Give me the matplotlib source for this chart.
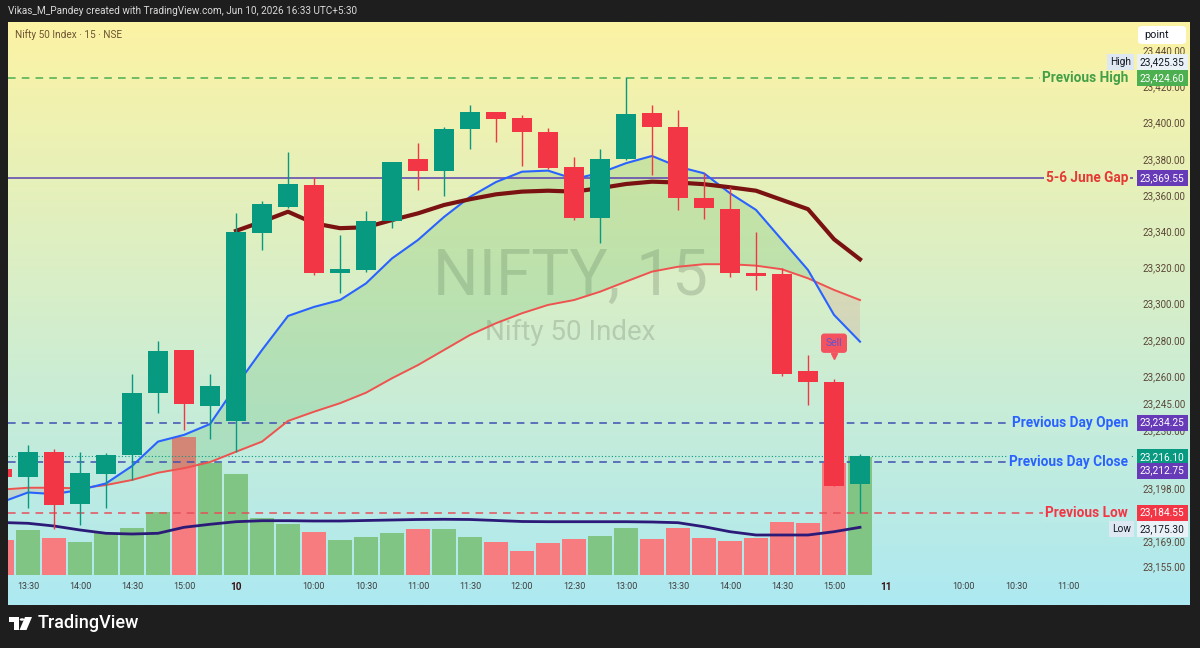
import numpy as np
import matplotlib.pyplot as plt
from matplotlib import transforms
from matplotlib.patches import FancyBboxPatch, Polygon, Circle

plt.rcParams['font.family'] = ['Roboto', 'DejaVu Sans']

W, H = 1200, 648

# 15 min candles, 9 Jun 13:15 -> 10 Jun 15:15
opens = [23208.7, 23204.4, 23218.2, 23189.3, 23205.7, 23216.4, 23250.5, 23274.4, 23243.5,
         23235.4, 23338.9, 23353.4, 23365.6, 23317.1, 23318.6, 23345.7, 23379.8, 23373.5,
         23396.4, 23405.7, 23402.8, 23394.7, 23375.7, 23347.5, 23379.8, 23405.5, 23397.5,
         23358.2, 23352.3, 23316.8, 23316.4, 23262.8, 23256.6, 23200.2]
highs = [23211.0, 23221.9, 23219.6, 23218.2, 23217.5, 23261.2, 23279.6, 23274.6, 23261.0,
         23350.3, 23356.9, 23384.0, 23370.2, 23338.0, 23351.4, 23378.5, 23388.6, 23397.8,
         23409.8, 23406.0, 23404.3, 23396.9, 23381.2, 23385.3, 23425.35, 23409.8, 23407.0,
         23372.0, 23364.6, 23339.4, 23319.6, 23271.7, 23258.2, 23217.0]
lows = [23202.0, 23187.1, 23175.3, 23177.7, 23187.1, 23202.6, 23239.4, 23230.2, 23225.1,
        23218.2, 23329.7, 23352.9, 23316.0, 23305.7, 23317.7, 23341.7, 23362.8, 23359.5,
        23385.5, 23389.5, 23376.1, 23374.5, 23346.2, 23333.4, 23379.5, 23371.1, 23351.8,
        23346.8, 23314.9, 23307.6, 23260.0, 23244.0, 23199.0, 23184.6]
closes = [23204.3, 23218.2, 23188.8, 23206.3, 23216.4, 23250.5, 23274.0, 23244.4, 23254.5,
          23339.8, 23355.1, 23366.1, 23316.8, 23319.0, 23345.7, 23378.3, 23373.5, 23396.5,
          23405.7, 23402.2, 23394.9, 23374.8, 23347.5, 23379.8, 23404.6, 23397.8, 23358.6,
          23352.7, 23316.8, 23315.3, 23261.2, 23256.6, 23199.3, 23216.1]
volume = [35, 45, 36.7, 33.3, 41.7, 47.3, 63.3, 138.3, 112.3, 101, 56.7, 50.7, 43.3, 35,
          38.3, 42.3, 45.7, 45.7, 37.7, 33.3, 24.3, 31.7, 35.7, 39, 47.3, 35.7, 47.3, 37.3,
          34, 37.3, 52.7, 51.7, 111.7, 118.3]
volume_ma = [52.5, 51.7, 49, 45, 41.7, 41, 41.7, 47.7, 50.7, 53.3, 54.3, 54.3, 54, 54, 54.5,
             55, 55.5, 55.7, 55.5, 54.5, 53.5, 53.3, 53.3, 53.3, 53.3, 53, 52.3, 48.3, 43.3,
             40, 40, 40, 43.3, 47.7]
ema_fast = [23190.4, 23195.7, 23194.8, 23197.1, 23200.7, 23210.3, 23223.8, 23227.5, 23233.5,
            23254.5, 23274.4, 23293.2, 23298.2, 23302.0, 23311.2, 23325.0, 23335.2, 23347.9,
            23359.0, 23367.2, 23372.9, 23373.5, 23368.9, 23372.2, 23377.6, 23381.6, 23375.7,
            23372.0, 23361.0, 23351.8, 23335.2, 23318.6, 23293.8, 23279.0]
ema_slow = [23197.3, 23198.3, 23198.3, 23198.0, 23199.8, 23202.6, 23206.6, 23209.1, 23212.5,
            23218.2, 23223.8, 23235.2, 23240.3, 23245.0, 23250.8, 23258.8, 23266.1, 23274.4,
            23282.7, 23289.2, 23294.7, 23299.3, 23302.0, 23306.6, 23312.2, 23317.7, 23320.4,
            23321.8, 23321.8, 23321.0, 23319.0, 23314.0, 23307.6, 23302.0]
# maroon average, only from the 10 Jun open (bar 9)
ma_day_start = 9
ma_day = [23340.2, 23345.3, 23350.8, 23344.4, 23341.7, 23342.2, 23346.2, 23349.9, 23354.5,
          23357.7, 23360.4, 23361.9, 23362.4, 23361.9, 23363.8, 23366.1, 23367.4, 23366.9,
          23366.0, 23364.3, 23362.4, 23357.3, 23352.2, 23335.6, 23324.5]
sell_bar = 32

prev_high = 23424.60
gap_level = 23369.55
prev_day_open = 23234.25
prev_day_close = 23212.75
prev_low = 23184.55
last_price = 23216.10
day_high = 23425.35
day_low = 23175.30

price_ticks = [23440, 23420, 23400, 23380, 23360, 23340, 23320, 23300, 23280, 23260,
               23245, 23230, 23198, 23169, 23155]
time_pos = [1, 3, 5, 7, 9, 12, 14, 16, 18, 20, 22, 24, 26, 28, 30, 32, 34, 37, 39, 41]
time_labels = ['13:30', '14:00', '14:30', '15:00', '10', '10:00', '10:30', '11:00', '11:30',
               '12:00', '12:30', '13:00', '13:30', '14:00', '14:30', '15:00', '11', '10:00',
               '10:30', '11:00']

XLIM = (0.23, 43.5)
YLIM = (23150.1, 23455.6)
UP, DOWN = '#089981', '#f23645'
top_col = np.array([252, 243, 164]) / 255
bot_col = np.array([173, 233, 242]) / 255


def rect(x0, y0, x1, y1):
    # pixel box (origin top left) -> figure fraction
    return [x0 / W, 1 - y1 / H, (x1 - x0) / W, (y1 - y0) / H]


def bg_at(p):
    y_px = 22 + (YLIM[1] - p) / (YLIM[1] - YLIM[0]) * 553
    f = (y_px - 22) / 583
    return tuple(top_col + f * (bot_col - top_col))


fig = plt.figure(figsize=(W / 100, H / 100), dpi=100, facecolor='#1e1e1e')

bg = fig.add_axes(rect(8, 22, 1190, 605))
grad = top_col + np.linspace(0, 1, 256)[:, None, None] * (bot_col - top_col)
bg.imshow(grad, aspect='auto', extent=(0, 1, 0, 1), origin='upper')
bg.axis('off')

idx = np.arange(len(opens))
o, h, l, c = map(np.array, (opens, highs, lows, closes))
up = c >= o
colors = np.where(up, UP, DOWN)

# volume pane
axv = fig.add_axes(rect(8, 22, 1133, 575))
axv.set_facecolor('none')
axv.axis('off')
axv.bar(idx, volume, width=0.95, color=np.where(up, '#80c584', '#f77c80'), lw=0)
axv.plot(idx, volume_ma, color='#2b1a78', lw=2)
axv.set_xlim(*XLIM)
axv.set_ylim(0, 553)

ax = fig.add_axes(rect(8, 22, 1133, 575))
ax.set_facecolor('none')
for s in ax.spines.values():
    s.set_visible(False)

ax.text(0.5, 0.539, 'NIFTY, 15', transform=ax.transAxes, ha='center', va='center',
        fontsize=46, color='#6f7f6a', alpha=0.3, zorder=0)
ax.text(0.5, 0.439, 'Nifty 50 Index', transform=ax.transAxes, ha='center', va='center',
        fontsize=20, color='#6f7f6a', alpha=0.3, zorder=0)

fast = np.array(ema_fast)
slow = np.array(ema_slow)
ax.fill_between(idx, fast, slow, where=fast >= slow, interpolate=True,
                color='#4caf50', alpha=0.2, lw=0, zorder=1)
ax.fill_between(idx, fast, slow, where=fast < slow, interpolate=True,
                color='#d84a4a', alpha=0.13, lw=0, zorder=1)
ax.plot(idx, slow, color='#ef5350', lw=1.4, zorder=2)
ax.plot(idx, fast, color='#2962ff', lw=1.5, zorder=2)
ax.plot(idx[ma_day_start:], ma_day, color='#7a1212', lw=3, zorder=2)

# levels
dash = (0, (5, 4))
levels = [
    (prev_high, 'Previous High', '#43a047', '#4caf50', dash),
    (gap_level, '5-6 June Gap', '#e53935', '#5b3fb2', '-'),
    (prev_day_open, 'Previous Day Open', '#2962ff', '#3f4fb0', dash),
    (prev_day_close, 'Previous Day Close', '#2962ff', '#3f4fb0', dash),
    (prev_low, 'Previous Low', '#f23645', '#e5505a', dash),
]
blend = transforms.blended_transform_factory(ax.transAxes, ax.transData)
for price, name, tcol, lcol, ls in levels:
    ax.axhline(price, color=lcol, ls=ls, lw=1.1, zorder=1.5)
    ax.text(0.9956, price, name, transform=blend, ha='right', va='center',
            fontsize=9.8, fontweight='bold', color=tcol, zorder=6,
            bbox=dict(boxstyle='square,pad=0.15', fc=bg_at(price), ec='none'))
ax.axhline(last_price, color=UP, ls=(0, (1, 2)), lw=0.8, zorder=1.5)

# candles
ax.vlines(idx, l, h, color=colors, lw=1, zorder=3)
ax.bar(idx, np.abs(c - o), bottom=np.minimum(o, c), width=0.77, color=colors, lw=0, zorder=4)

# sell signal
sell_col = '#f4525e'
ax.annotate('Sell', xy=(sell_bar, highs[sell_bar]), xytext=(0, 26), textcoords='offset points',
            ha='center', va='center', fontsize=7.5, color='#5f55d0', zorder=7,
            bbox=dict(boxstyle='round,pad=0.45,rounding_size=0.3', fc=sell_col, ec='none'))
ax.plot([sell_bar], [highs[sell_bar]], marker='v', ms=5, color=sell_col, zorder=7,
        transform=transforms.offset_copy(ax.transData, fig=fig, y=16.5, units='points'))

ax.set_xlim(*XLIM)
ax.set_ylim(*YLIM)

ax.yaxis.tick_right()
ax.set_yticks(price_ticks)
ax.set_yticklabels([f'{v:,.2f}' for v in price_ticks])
ax.tick_params(axis='y', length=0, pad=6.5, labelsize=7, labelcolor='#5a4636')
ax.set_xticks(time_pos)
ax.set_xticklabels(time_labels)
ax.tick_params(axis='x', length=0, pad=5, labelsize=6.5, labelcolor='#3d3d3d')
for lab in ax.get_xticklabels():
    if len(lab.get_text()) == 2:
        lab.set_fontweight('bold')
        lab.set_color('#3a1010')
        lab.set_fontsize(7.2)

# price tags on the scale
tags = [(prev_high, '#4caf50', 0), (gap_level, '#673ab7', 0), (prev_day_open, '#673ab7', 0),
        (last_price, UP, -1), (prev_day_close, '#673ab7', -6.5), (prev_low, '#f23645', 0)]
for price, col, dy in tags:
    ax.annotate(f'{price:,.2f}', xy=(1.0062, price), xycoords=blend, xytext=(0, dy),
                textcoords='offset points', ha='left', va='center', fontsize=7.3,
                color='white', zorder=8, annotation_clip=False,
                bbox=dict(boxstyle='square,pad=0.3', fc=col, ec='none'))

for price, word, dy in [(day_high, 'High', 10.7), (day_low, 'Low', 0)]:
    ax.annotate(word, xy=(0.9985, price), xycoords=blend, xytext=(0, dy),
                textcoords='offset points', ha='right', va='center', fontsize=7.3,
                color='#131722', zorder=8, annotation_clip=False,
                bbox=dict(boxstyle='square,pad=0.3', fc='#dde8f2', ec='none'))
    ax.annotate(f'{price:,.2f}', xy=(1.0062, price), xycoords=blend, xytext=(0, dy),
                textcoords='offset points', ha='left', va='center', fontsize=7.3,
                color='#131722', zorder=8, annotation_clip=False,
                bbox=dict(boxstyle='square,pad=0.3', fc='#eaf2f8', ec='none'))

# header / footer
fig.text(8 / W, 1 - 11 / H, 'Vikas_M_Pandey created with TradingView.com, Jun 10, 2026 16:33 UTC+5:30',
         color='#d9d9d9', fontsize=7.2, va='center', ha='left')
fig.text(15 / W, 1 - 35 / H, 'Nifty 50 Index · 15 · NSE', color='#6d5533', fontsize=7.2,
         va='center', ha='left')
fig.patches.append(FancyBboxPatch((1138 / W, 1 - 44 / H), 48 / W, 18 / H,
                                  boxstyle='round,pad=0,rounding_size=0.004',
                                  transform=fig.transFigure, fc='white', ec='none'))
fig.text(1157 / W, 1 - 35 / H, 'point', color='#131722', fontsize=7.8, ha='center', va='center')


def px(x, y):
    return (x / W, 1 - y / H)


for shape in [Polygon([px(9, 617), px(19, 617), px(19, 630), px(14, 630), px(14, 621.5), px(9, 621.5)]),
              Polygon([px(25, 617), px(32, 617), px(26.5, 630), px(19.5, 630)]),
              Circle(px(22, 619.5), 2.3 / W)]:
    shape.set_transform(fig.transFigure)
    shape.set_facecolor('white')
    shape.set_edgecolor('none')
    fig.patches.append(shape)
fig.text(38 / W, 1 - 623 / H, 'TradingView', color='white', fontsize=13, fontweight='medium',
         va='center', ha='left')

fig.savefig('out.png', dpi=100, facecolor=fig.get_facecolor())
